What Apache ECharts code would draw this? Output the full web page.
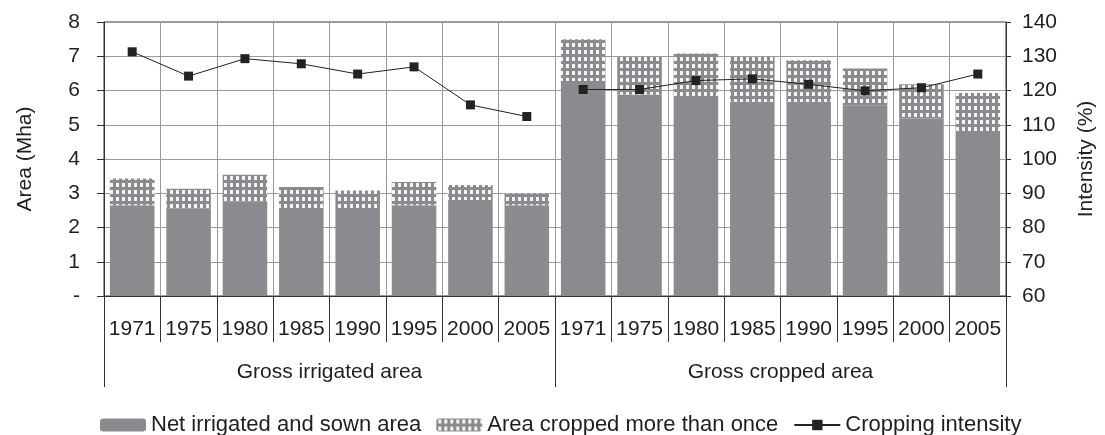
<!DOCTYPE html>
<html>
<head>
<meta charset="utf-8">
<script src="https://cdn.jsdelivr.net/npm/echarts@6/dist/echarts.min.js"></script>
<style>html,body{margin:0;padding:0;background:#fff;}#c{width:1105px;height:435px;}</style>
</head>
<body>
<div id="c"></div>
<script>
const years = ['1971','1975','1980','1985','1990','1995','2000','2005','1971','1975','1980','1985','1990','1995','2000','2005'];
const groups = ['Gross irrigated area', 'Gross cropped area'];
const netArea = [2.65,2.56,2.77,2.51,2.51,2.65,2.80,2.65, 6.28,5.88,5.81,5.67,5.67,5.57,5.18,4.76];
const multiCropped = [0.78,0.57,0.77,0.67,0.57,0.68,0.44,0.34, 1.22,1.10,1.27,1.31,1.21,1.07,1.00,1.17];
const intensityIrrigated = [131.3,124.2,129.3,127.8,124.8,126.9,115.8,112.4];
const intensityCropped = [120.3,120.3,122.9,123.4,121.8,119.9,120.8,124.8];
const leftTicks = [0,1,2,3,4,5,6,7,8];
const rightTicks = [60,70,80,90,100,110,120,130,140];

const GREY = '#8a8b8e';
const TXT = '#1f1f1f';
const FONT = '"Liberation Sans", Arial, sans-serif';

const tile = document.createElement('canvas');
tile.width = 6; tile.height = 7;
const g = tile.getContext('2d');
g.fillStyle = GREY; g.fillRect(0,0,6,7);
g.fillStyle = '#f4f4f4'; g.fillRect(2,1,3,4);

const lineA = intensityIrrigated.concat(new Array(8).fill(null));
const lineB = new Array(8).fill(null).concat(intensityCropped);

const chart = echarts.init(document.getElementById('c'), null, {renderer:'canvas'});
chart.setOption({
  animation: false,
  backgroundColor: '#fff',
  textStyle: {fontFamily: FONT, color: TXT},
  grid: {left: 104, right: 94, top: 22, bottom: 139, show: true, borderColor: '#333', borderWidth: 1},
  legend: {
    left: 95, top: 409, itemWidth: 46, itemHeight: 13, itemGap: 15,
    textStyle: {fontSize: 22, color: TXT, fontFamily: FONT},
    data: ['Net irrigated and sown area', 'Area cropped more than once', 'Cropping intensity']
  },
  xAxis: [
    {
      type: 'category', data: years, position: 'bottom',
      axisLine: {show: true, lineStyle: {color: '#333'}},
      axisTick: {show: true, interval: 0, length: 46, lineStyle: {color: '#333'}},
      axisLabel: {interval: 0, margin: 23, fontSize: 21, color: TXT, fontFamily: FONT},
      splitLine: {show: true, interval: 0, lineStyle: {color: '#9a9a9a'}}
    },
    {
      type: 'category', data: groups, position: 'bottom',
      axisLine: {show: false},
      axisTick: {show: true, interval: 0, length: 91, lineStyle: {color: '#333'}},
      axisLabel: {interval: 0, margin: 66, fontSize: 21, color: TXT, fontFamily: FONT},
      splitLine: {show: false}
    }
  ],
  yAxis: [
    {
      type: 'value', min: 0, max: 8, interval: 1, position: 'left',
      name: 'Area (Mha)', nameLocation: 'middle', nameGap: 68, nameRotate: 90,
      nameTextStyle: {fontSize: 21, color: TXT, fontFamily: FONT},
      axisLine: {show: true, lineStyle: {color: '#333'}},
      axisTick: {show: true, length: 7, lineStyle: {color: '#333'}},
      axisLabel: {margin: 24, fontSize: 21, color: TXT, fontFamily: FONT,
        formatter: v => (v === leftTicks[0] ? '-' : String(v))},
      splitLine: {show: true, lineStyle: {color: '#9a9a9a'}}
    },
    {
      type: 'value', min: 60, max: 140, interval: 10, position: 'right',
      name: 'Intensity (%)', nameLocation: 'middle', nameGap: 70, nameRotate: 90,
      nameTextStyle: {fontSize: 21, color: TXT, fontFamily: FONT},
      axisLine: {show: true, lineStyle: {color: '#333'}},
      axisTick: {show: true, length: 5, lineStyle: {color: '#333'}},
      axisLabel: {margin: 16, fontSize: 21, color: TXT, fontFamily: FONT},
      splitLine: {show: false}
    }
  ],
  series: [
    {
      name: 'Net irrigated and sown area', type: 'bar', stack: 'a',
      data: netArea, barCategoryGap: '21%',
      itemStyle: {color: GREY}
    },
    {
      name: 'Area cropped more than once', type: 'bar', stack: 'a',
      data: multiCropped, barCategoryGap: '21%',
      itemStyle: {color: {image: tile, repeat: 'repeat'}}
    },
    {
      name: 'Cropping intensity', type: 'line', yAxisIndex: 1, data: lineA,
      symbol: 'rect', symbolSize: 9, showSymbol: true, connectNulls: false,
      lineStyle: {color: '#222', width: 1}, itemStyle: {color: '#222'}
    },
    {
      name: 'Cropping intensity', type: 'line', yAxisIndex: 1, data: lineB,
      symbol: 'rect', symbolSize: 9, showSymbol: true, connectNulls: false,
      lineStyle: {color: '#222', width: 1}, itemStyle: {color: '#222'}
    }
  ]
});
</script>
</body>
</html>
